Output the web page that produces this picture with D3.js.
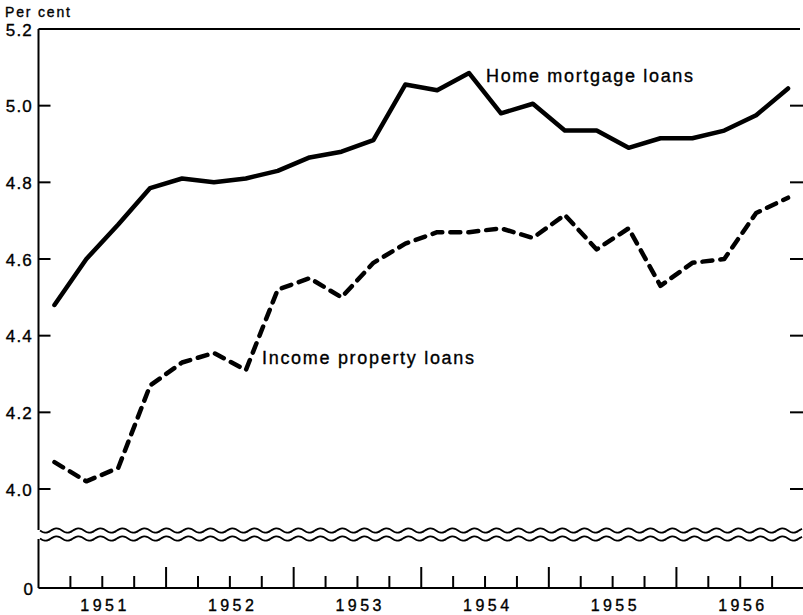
<!DOCTYPE html>
<html>
<head>
<meta charset="utf-8">
<script src="https://cdn.jsdelivr.net/npm/d3@7"></script>
<style>
html,body{margin:0;padding:0;background:#fff;}
svg{display:block;}
text{font-family:"Liberation Sans",Arial,sans-serif;fill:#000;stroke:#000;stroke-width:0.35px;}
</style>
</head>
<body>
<svg id="chart" width="803" height="615"></svg>
<script>
// ---- data (quarterly, mid-quarter points, 1951 Q1 – 1956 Q4) ----
const years = [1951, 1952, 1953, 1954, 1955, 1956];
const quarters = years.flatMap(y => [1, 2, 3, 4].map(q => ({year: y, q: q})));
const homeMortgage = [4.48, 4.60, 4.69, 4.785, 4.81, 4.80, 4.81, 4.83, 4.865, 4.88, 4.91, 5.055,
                      5.04, 5.085, 4.98, 5.005, 4.935, 4.935, 4.89, 4.915, 4.915, 4.935, 4.975, 5.045];
const incomeProperty = [4.07, 4.02, 4.055, 4.27, 4.33, 4.355, 4.31, 4.52, 4.55, 4.50, 4.59, 4.64,
                        4.67, 4.67, 4.68, 4.655, 4.715, 4.625, 4.68, 4.53, 4.59, 4.60, 4.72, 4.76];
const yTicks = [4.0, 4.2, 4.4, 4.6, 4.8, 5.0, 5.2];
const yTickLabels = ["4.0", "4.2", "4.4", "4.6", "4.8", "5.0", "5.2"];
const seriesLabels = ["Home mortgage loans", "Income property loans"];

// ---- layout ----
const svg = d3.select("#chart");
const left = 38.5, right = 804;
const x = d3.scaleLinear().domain([1951, 1957]).range([left, right]);
const y = d3.scaleLinear().domain([4.0, 5.2]).range([489, 29]);
const zeroY = 588;
const ink = "#000";

const xOf = (d, i) => x(quarters[i].year + (quarters[i].q - 0.5) / 4);

// top border
svg.append("line").attr("x1", left).attr("x2", 800).attr("y1", y(5.2)).attr("y2", y(5.2))
  .attr("stroke", ink).attr("stroke-width", 2);

// left axis (with break)
svg.append("line").attr("x1", left).attr("x2", left).attr("y1", y(5.2)).attr("y2", 530)
  .attr("stroke", ink).attr("stroke-width", 2);
svg.append("line").attr("x1", left).attr("x2", left).attr("y1", 539).attr("y2", zeroY)
  .attr("stroke", ink).attr("stroke-width", 2);

// y ticks left & right
const yt = svg.append("g");
yTicks.forEach((v, i) => {
  if (v < 5.2) {
    yt.append("line").attr("x1", left).attr("x2", left + 12).attr("y1", y(v)).attr("y2", y(v))
      .attr("stroke", ink).attr("stroke-width", 2);
    yt.append("line").attr("x1", 790).attr("x2", 803).attr("y1", y(v)).attr("y2", y(v))
      .attr("stroke", ink).attr("stroke-width", 2);
  }
  yt.append("text").attr("x", 33).attr("y", y(v) + 6.5).attr("text-anchor", "end")
    .attr("font-size", 17).attr("letter-spacing", 1.2).text(yTickLabels[i]);
});
svg.append("text").attr("x", 33).attr("y", zeroY + 6.5).attr("text-anchor", "end")
  .attr("font-size", 17).text("0");
svg.append("text").attr("x", 5).attr("y", 17).attr("font-size", 14)
  .attr("textLength", 65).attr("lengthAdjust", "spacing").text("Per cent");

// break waves
const wave = d3.line().curve(d3.curveBasis);
[530.5, 538.5].forEach(cy => {
  const pts = d3.range(40, 804, 2).map(px => [px, cy + 2.3 * Math.sin((px - 40) / 22 * 2 * Math.PI)]);
  svg.append("path").attr("d", wave(pts)).attr("fill", "none").attr("stroke", ink).attr("stroke-width", 1.8);
});

// bottom axis
svg.append("line").attr("x1", left).attr("x2", right).attr("y1", zeroY).attr("y2", zeroY)
  .attr("stroke", ink).attr("stroke-width", 2);
const qTicks = d3.range(1, 24).map(k => 1951 + k / 4);
svg.append("g").selectAll("line").data(qTicks).join("line")
  .attr("x1", d => x(d)).attr("x2", d => x(d))
  .attr("y1", zeroY).attr("y2", d => (Math.abs(d - Math.round(d)) < 1e-6 ? 567 : 576))
  .attr("stroke", ink).attr("stroke-width", 2);
svg.append("g").selectAll("text").data(years).join("text")
  .attr("x", d => x(d + 0.5) - 22).attr("y", 611)
  .attr("font-size", 16).attr("textLength", 46).attr("lengthAdjust", "spacing").text(d => d);

// lines
const line = d3.line().x(xOf).y(d => y(d));
svg.append("path").attr("d", line(homeMortgage)).attr("fill", "none").attr("stroke", ink)
  .attr("stroke-width", 4.5).attr("stroke-linejoin", "round").attr("stroke-linecap", "round");
svg.append("path").attr("d", line(incomeProperty)).attr("fill", "none").attr("stroke", ink)
  .attr("stroke-width", 4.5).attr("stroke-linejoin", "round").attr("stroke-linecap", "round")
  .attr("stroke-dasharray", "10,8");

// labels
svg.append("text").attr("x", 486).attr("y", 82).attr("font-size", 18)
  .attr("textLength", 207).attr("lengthAdjust", "spacing").text(seriesLabels[0]);
svg.append("text").attr("x", 262).attr("y", 364).attr("font-size", 18)
  .attr("textLength", 212).attr("lengthAdjust", "spacing").text(seriesLabels[1]);
</script>
</body>
</html>
